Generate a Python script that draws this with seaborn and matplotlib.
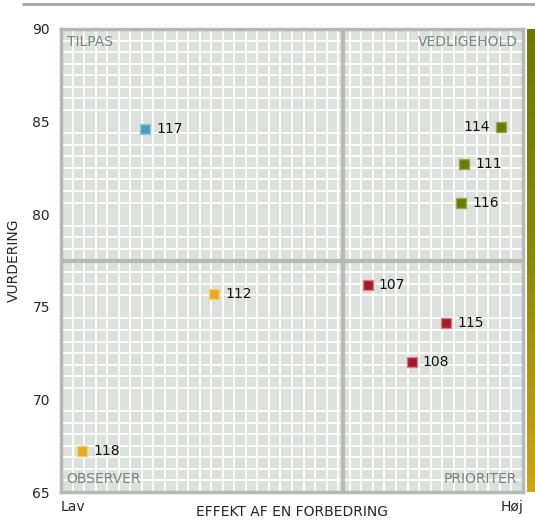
import numpy as np
import pandas as pd
import matplotlib
matplotlib.use("Agg")
import matplotlib.pyplot as plt
import seaborn as sns
from matplotlib.colors import LinearSegmentedColormap

# data
ids = ["117", "114", "111", "116", "107", "115", "108", "112", "118"]
effekt = [18.2, 95.2, 87.2, 86.6, 66.4, 83.3, 75.9, 33.2, 4.6]
vurdering = [84.6, 84.7, 82.7, 80.6, 76.2, 74.1, 72.0, 75.7, 67.2]
gruppe = ["TILPAS", "VEDLIGEHOLD", "VEDLIGEHOLD", "VEDLIGEHOLD",
          "PRIORITER", "PRIORITER", "PRIORITER", "OBSERVER", "OBSERVER"]

quadrants = ["TILPAS", "VEDLIGEHOLD", "OBSERVER", "PRIORITER"]
colors = {"TILPAS": "#4a9ec0", "VEDLIGEHOLD": "#687b02",
          "OBSERVER": "#e2ae1c", "PRIORITER": "#a51a2a"}
edges = {"TILPAS": "#8fc6dc", "VEDLIGEHOLD": "#9aa84a",
         "OBSERVER": "#f0d070", "PRIORITER": "#e07a84"}

x_split = 61
y_split = 77.5
y_ticks = [65, 70, 75, 80, 85, 90]

df = pd.DataFrame({"id": ids, "effekt": effekt, "vurdering": vurdering, "gruppe": gruppe})

sns.set_style("white")
plt.rcParams["font.family"] = ["DejaVu Sans"]

fig = plt.figure(figsize=(5.35, 5.21), dpi=100)
ax = fig.add_axes([61 / 535, 1 - 492 / 521, 462 / 535, 463 / 521])
ax.set_facecolor("#dde1de")

# background grid (40 x 40 cells)
ax.set_xlim(0, 100)
ax.set_ylim(65, 90)
ax.set_xticks(np.linspace(0, 100, 41), minor=True)
ax.set_yticks(np.linspace(65, 90, 41), minor=True)
ax.grid(which="minor", color="white", linewidth=1.3)
ax.tick_params(which="minor", length=0)

# quadrant dividers
ax.axvline(x_split, color="#b5bab7", linewidth=3, zorder=2)
ax.axhline(y_split, color="#b5bab7", linewidth=3, zorder=2)

for g in quadrants:
    sub = df[df.gruppe == g]
    sns.scatterplot(data=sub, x="effekt", y="vurdering", marker="s", s=62,
                    color=colors[g], edgecolor=edges[g], linewidth=1.0,
                    ax=ax, zorder=3, legend=False)

for _, r in df.iterrows():
    if r.effekt > 92:
        ax.annotate(r.id, (r.effekt, r.vurdering), xytext=(-8, 0), textcoords="offset points",
                    ha="right", va="center", fontsize=10, color="#111111")
    else:
        ax.annotate(r.id, (r.effekt, r.vurdering), xytext=(8, 0), textcoords="offset points",
                    ha="left", va="center", fontsize=10, color="#111111")

# quadrant labels
lab_kw = dict(fontsize=10, color="#7a8582", transform=ax.transAxes)
ax.text(0.012, 0.988, "TILPAS", ha="left", va="top", **lab_kw)
ax.text(0.988, 0.988, "VEDLIGEHOLD", ha="right", va="top", **lab_kw)
ax.text(0.012, 0.012, "OBSERVER", ha="left", va="bottom", **lab_kw)
ax.text(0.988, 0.012, "PRIORITER", ha="right", va="bottom", **lab_kw)

ax.set_yticks(y_ticks)
ax.set_yticklabels([str(t) for t in y_ticks], fontsize=10)
ax.set_xticks([0, 100])
ax.set_xticklabels(["Lav", "Høj"], fontsize=10)
xl = ax.get_xticklabels()
xl[0].set_ha("left")
xl[1].set_ha("right")
ax.tick_params(which="major", length=0, pad=8)
ax.tick_params(axis="x", pad=6)

ax.set_xlabel("EFFEKT AF EN FORBEDRING", fontsize=10, labelpad=-7)
ax.set_ylabel("VURDERING", fontsize=10, labelpad=8)

for s in ax.spines.values():
    s.set_color("#b5bab7")
    s.set_linewidth(2.5)

# colour bar on the right
cax = fig.add_axes([527 / 535, 1 - 492 / 521, 9 / 535, 463 / 521])
cmap = LinearSegmentedColormap.from_list("grad", ["#6b7a00", "#8a8a08", "#d0a412"])
cax.imshow(np.linspace(0, 1, 256).reshape(-1, 1), aspect="auto", cmap=cmap)
cax.axis("off")

# top rule
fig.add_artist(plt.Line2D([23 / 535, 1], [1 - 4 / 521, 1 - 4 / 521],
                          color="#9ea6a3", linewidth=2))

fig.savefig("out.png", dpi=100)
